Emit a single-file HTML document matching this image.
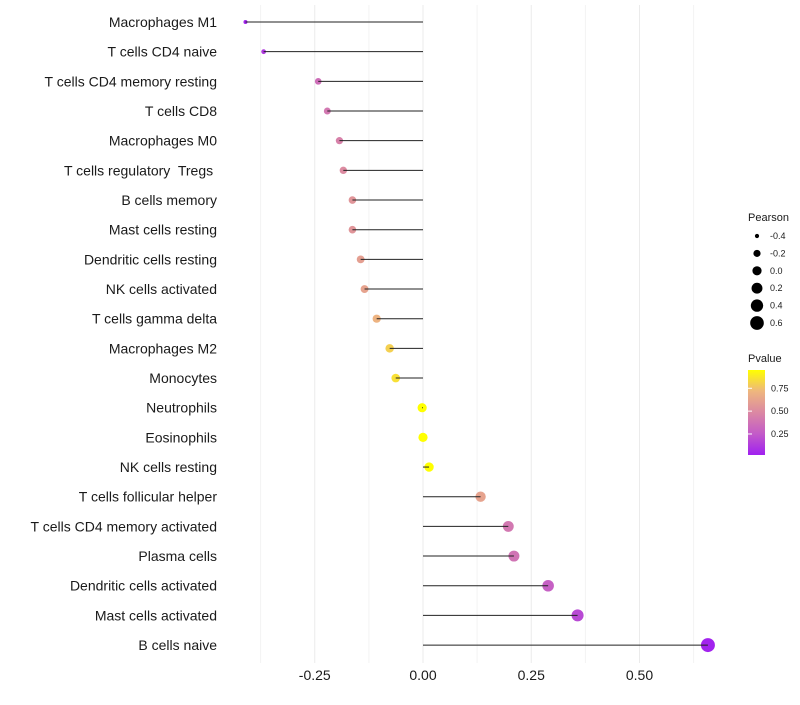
<!DOCTYPE html>
<html><head><meta charset="utf-8"><style>
body{margin:0;background:#fff;font-family:"Liberation Sans",sans-serif;}
svg text{font-family:"Liberation Sans",sans-serif;white-space:pre;}
</style></head><body>
<svg id="chart" width="800" height="700">
<defs><linearGradient id="pg" x1="0" y1="1" x2="0" y2="0">
<stop offset="0" stop-color="#A020F0"/><stop offset="0.25" stop-color="#C35BC8"/>
<stop offset="0.5" stop-color="#DB88A3"/><stop offset="0.75" stop-color="#EEB67E"/>
<stop offset="1" stop-color="#FFFF00"/></linearGradient></defs>
<g id="grid"></g><g id="marks"></g><g id="ylabels"></g><g id="xaxis"></g>
<g id="legend"></g>
</svg>
<script>
const categories=["Macrophages M1","T cells CD4 naive","T cells CD4 memory resting","T cells CD8","Macrophages M0","T cells regulatory  Tregs ","B cells memory","Mast cells resting","Dendritic cells resting","NK cells activated","T cells gamma delta","Macrophages M2","Monocytes","Neutrophils","Eosinophils","NK cells resting","T cells follicular helper","T cells CD4 memory activated","Plasma cells","Dendritic cells activated","Mast cells activated","B cells naive"];
const pearson=[-0.410,-0.368,-0.242,-0.221,-0.193,-0.184,-0.163,-0.163,-0.144,-0.135,-0.107,-0.077,-0.063,-0.002,0.0,0.014,0.133,0.197,0.210,0.289,0.357,0.658];
const pvalue=[0.03,0.12,0.35,0.4,0.45,0.5,0.55,0.55,0.6,0.62,0.7,0.8,0.85,0.97,0.97,0.95,0.62,0.4,0.38,0.28,0.18,0.03];
const xTicks=[-0.25,0,0.25,0.5];
const xTickLabels=["-0.25","0.00","0.25","0.50"];
const sizeLegend=[-0.4,-0.2,0.0,0.2,0.4,0.6];
const sizeLegendLabels=["-0.4","-0.2","0.0","0.2","0.4","0.6"];
const pLegend=[0.25,0.5,0.75];
const NS="http://www.w3.org/2000/svg";
const X=v=>423+v*433;
const Y=i=>22+i*29.67;
const R=v=>Math.sqrt(4+Math.max(0,(v+0.41))/1.07*45);
const stops=[[0,[160,32,240]],[0.25,[195,91,200]],[0.5,[219,136,163]],[0.75,[238,182,126]],[1,[255,255,0]]];
function col(p){let t=Math.min(1,Math.max(0,(p-0.02)/0.93));for(let k=1;k<stops.length;k++){if(t<=stops[k][0]){const a=stops[k-1],b=stops[k];const f=(t-a[0])/(b[0]-a[0]);const c=a[1].map((x,j)=>Math.round(x+(b[1][j]-x)*f));return `rgb(${c})`;}}return "rgb(255,255,0)";}
function mk(tag,attrs,parent){const e=document.createElementNS(NS,tag);for(const k in attrs)e.setAttribute(k,attrs[k]);parent.appendChild(e);return e;}
const grid=document.getElementById('grid'),marks=document.getElementById('marks'),yl=document.getElementById('ylabels'),xa=document.getElementById('xaxis'),lg=document.getElementById('legend');
for(let v=-0.375;v<0.7;v+=0.125){const l=mk('line',{x1:X(v),x2:X(v),y1:5,y2:663,stroke:Math.abs((v/0.25)-Math.round(v/0.25))<1e-6?'#ebebeb':'#f3f3f3','stroke-width':1},grid);

}
categories.forEach((c,i)=>{
const t=mk('text',{x:217,y:Y(i)+5,'text-anchor':'end','font-size':14,fill:'#1a1a1a'},yl);t.textContent=c;


const pt=mk('circle',{cx:X(pearson[i]),cy:Y(i),r:R(pearson[i]),fill:col(pvalue[i])},marks);


const s=mk('line',{x1:X(0),x2:X(pearson[i]),y1:Y(i),y2:Y(i),stroke:'#222','stroke-width':1},marks);


});
xTicks.forEach((v,i)=>{const t=mk('text',{x:X(v),y:680,'text-anchor':'middle','font-size':14,fill:'#1a1a1a'},xa);t.textContent=xTickLabels[i];

});
let t=mk('text',{x:748,y:221,'font-size':11,fill:'#1a1a1a'},lg);t.textContent="Pearson";


sizeLegend.forEach((v,i)=>{const y=236+i*17.4;const c=mk('circle',{cx:757,cy:y,r:R(v),fill:'#000'},lg);


const tt=mk('text',{x:770,y:y+3,'font-size':9,fill:'#1a1a1a'},lg);tt.textContent=sizeLegendLabels[i];

});
t=mk('text',{x:748,y:362,'font-size':11,fill:'#1a1a1a'},lg);t.textContent="Pvalue";


const bar=mk('rect',{x:748,y:370,width:17,height:85,fill:'url(#pg)'},lg);


pLegend.forEach(p=>{const y=455-(p-0.02)/0.93*85;
const tk=mk('line',{x1:748,x2:752,y1:y,y2:y,stroke:'#fff'},lg);


const tt=mk('text',{x:771,y:y+3,'font-size':9,fill:'#1a1a1a'},lg);tt.textContent=p.toFixed(2);

});
</script>
</body></html>
